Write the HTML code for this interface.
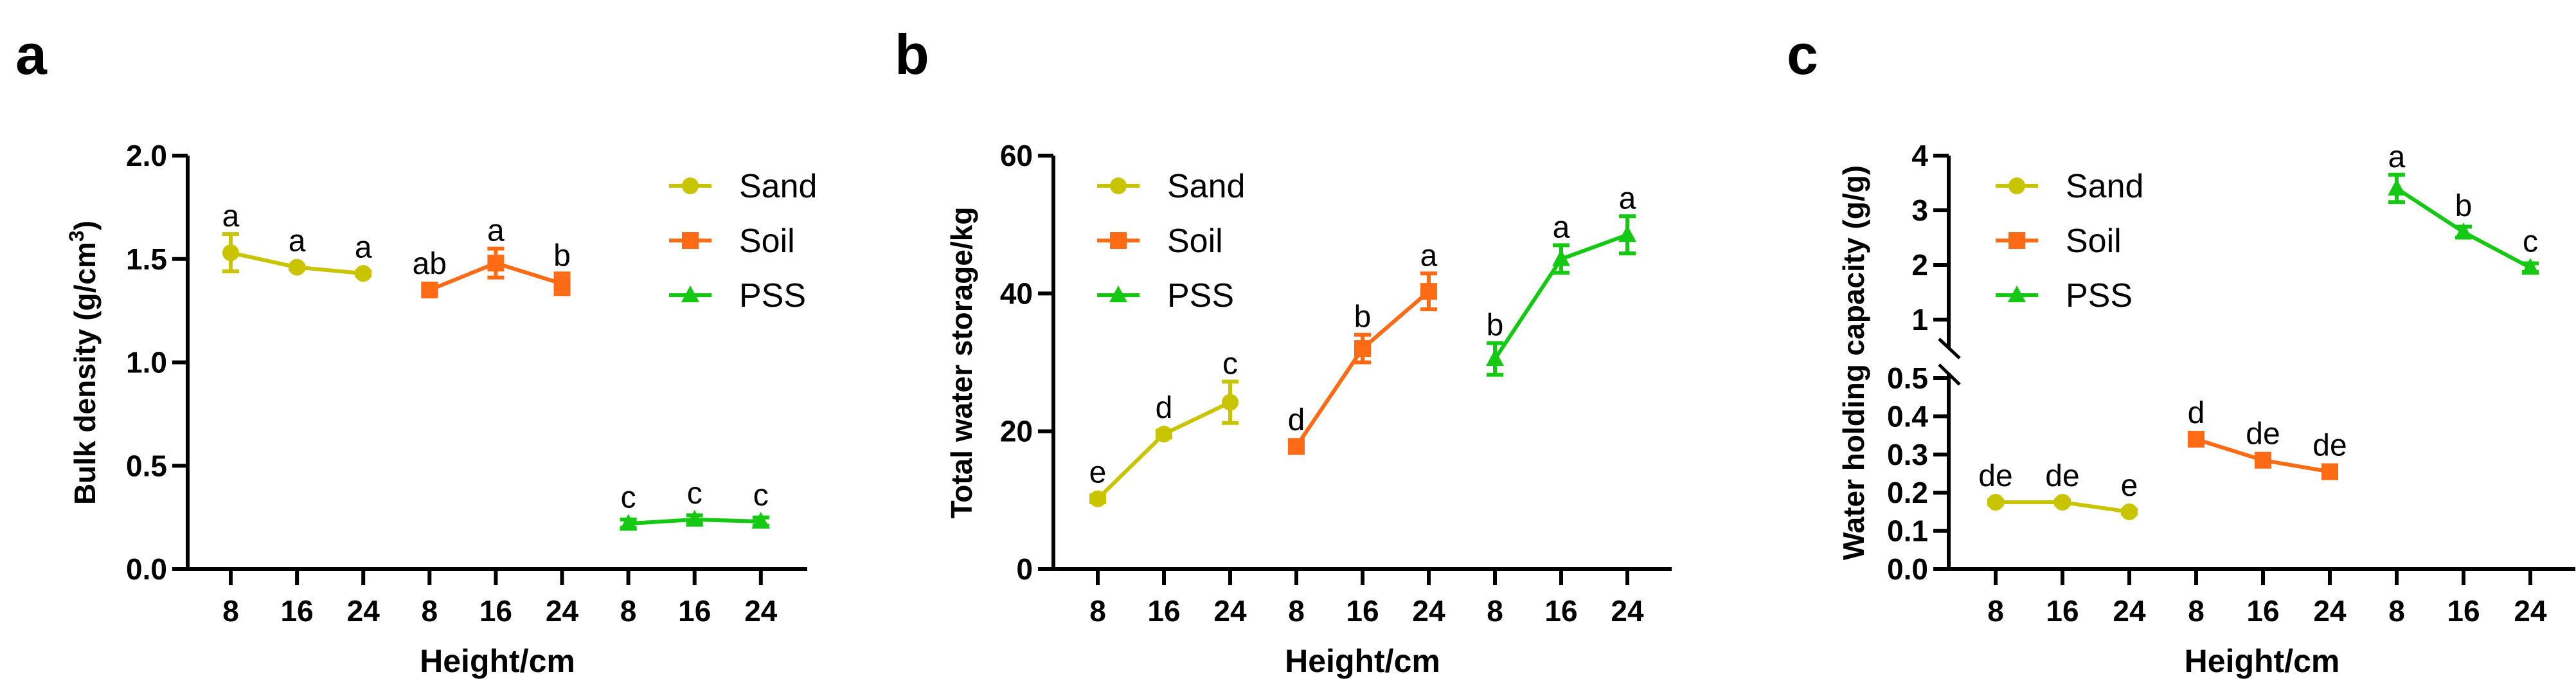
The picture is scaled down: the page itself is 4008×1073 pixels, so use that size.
<!DOCTYPE html>
<html><head><meta charset="utf-8"><style>
body{margin:0;background:#fff}
svg{display:block;font-family:"Liberation Sans",sans-serif}
</style></head><body>
<svg id="fig" width="4008" height="1073" viewBox="0 0 4008 1073" xmlns="http://www.w3.org/2000/svg"></svg>
<script>
const seriesNames=["Sand","Soil","PSS"];
const xLabels=["8","16","24","8","16","24","8","16","24"];
// panel a: bulk density
const aSand=[1.53,1.46,1.43], aSoil=[1.35,1.48,1.38], aPSS=[0.22,0.24,0.23];
const aSandErr=[0.09,0.01,0.01], aSoilErr=[0.02,0.07,0.05], aPSSErr=[0.02,0.02,0.02];
const aLetters=["a","a","a","ab","a","b","c","c","c"];
const aTicks=[0,0.5,1.0,1.5,2.0];
// panel b: total water storage
const bSand=[10.2,19.6,24.2], bSoil=[17.8,32,40.3], bPSS=[30.5,45,48.5];
const bSandErr=[0.5,0.5,3], bSoilErr=[0.5,2,2.6], bPSSErr=[2.3,2,2.7];
const bLetters=["e","d","c","d","b","a","b","a","a"];
const bTicks=[0,20,40,60];
// panel c: water holding capacity
const cSand=[0.175,0.175,0.15], cSoil=[0.34,0.285,0.255], cPSS=[3.4,2.6,1.95];
const cSandErr=[0.005,0.005,0.005], cSoilErr=[0.005,0.005,0.005], cPSSErr=[0.25,0.1,0.08];
const cLetters=["de","de","e","d","de","de","a","b","c"];
const cTicksLow=[0,0.1,0.2,0.3,0.4,0.5], cTicksHigh=[1,2,3,4];

const colors=["#c8c400","#ff6a14","#14c814"];
const NS="http://www.w3.org/2000/svg";
const svg=document.getElementById('fig');
function el(tag,attrs,parent,name,inter){const e=document.createElementNS(NS,tag);for(const k in attrs)e.setAttribute(k,attrs[k]);(parent||svg).appendChild(e);return e;}
function marker(g,k,x,y){
  if(k===0){const c=el('circle',{cx:x,cy:y,r:13,fill:colors[0]},g,'marker-circle');}
  else if(k===1){el('rect',{x:x-13,y:y-13,width:26,height:26,fill:colors[1]},g,'marker-square');}
  else {el('polygon',{points:`${x},${y-15} ${x+14},${y+11} ${x-14},${y+11}`,fill:colors[2]},g,'marker-triangle');}
}
function panel(cfg){
  const g=el('g',{},svg,cfg.name+'-panel');
  el('text',{x:cfg.letterX,y:115,'font-size':88,'font-weight':'bold'},g,'panel-label').textContent=cfg.letter;
  const ax=cfg.axisX, X=i=>cfg.x0+i*cfg.dx;
  // y axis
  if(cfg.broken){
    el('line',{x1:ax,y1:242,x2:ax,y2:542,stroke:'#000','stroke-width':6},g,'y-axis-upper');
    el('line',{x1:ax,y1:580,x2:ax,y2:888,stroke:'#000','stroke-width':6},g,'y-axis-lower');
    el('line',{x1:ax-15,y1:527,x2:ax+17,y2:557,stroke:'#000','stroke-width':5},g,'axis-break');
    el('line',{x1:ax-15,y1:567,x2:ax+17,y2:598,stroke:'#000','stroke-width':5},g,'axis-break');
  } else el('line',{x1:ax,y1:242,x2:ax,y2:888,stroke:'#000','stroke-width':6},g,'y-axis');
  el('line',{x1:ax-3,y1:885,x2:cfg.axisEnd,y2:885,stroke:'#000','stroke-width':6},g,'x-axis');
  cfg.ticks.forEach(t=>{const y=cfg.Y(t);
    el('line',{x1:ax-24,y1:y,x2:ax,y2:y,stroke:'#000','stroke-width':6},g,'y-tick');
    const tx=el('text',{x:ax-32,y:y+16,'font-size':46,'font-weight':'bold','text-anchor':'end'},g,'y-tick-label');tx.textContent=cfg.fmt(t);});
  xLabels.forEach((l,i)=>{
    el('line',{x1:X(i),y1:885,x2:X(i),y2:910,stroke:'#000','stroke-width':6},g,'x-tick');
    el('text',{x:X(i),y:966,'font-size':46,'font-weight':'bold','text-anchor':'middle'},g,'x-tick-label').textContent=l;});
  el('text',{x:(ax+cfg.axisEnd)/2,y:1045,'font-size':50,'font-weight':'bold','text-anchor':'middle'},g,'x-axis-title').textContent='Height/cm';
  const yt=el('text',{x:0,y:0,'font-size':46,'font-weight':'bold','text-anchor':'middle',transform:`translate(${cfg.titleX},${cfg.titleY}) rotate(-90)`},g,'y-axis-title');
  yt.innerHTML=cfg.title;
  cfg.series.forEach((vals,k)=>{
    const sg=el('g',{},g,'series-'+seriesNames[k].toLowerCase());
    const pts=vals.map((v,j)=>[X(k*3+j),cfg.Y(v)]);
    el('polyline',{points:pts.map(p=>p.join(',')).join(' '),fill:'none',stroke:colors[k],'stroke-width':6},sg,'series-line');
    vals.forEach((v,j)=>{const x=X(k*3+j),e=cfg.errs[k][j];
      const yt2=cfg.Y(v+e),yb=cfg.Y(v-e);
      if(e>0){el('line',{x1:x,y1:yt2,x2:x,y2:yb,stroke:colors[k],'stroke-width':6},sg,'error-bar');
        el('line',{x1:x-13,y1:yt2,x2:x+13,y2:yt2,stroke:colors[k],'stroke-width':6},sg,'error-cap');
        el('line',{x1:x-13,y1:yb,x2:x+13,y2:yb,stroke:colors[k],'stroke-width':6},sg,'error-cap');}
      marker(sg,k,x,cfg.Y(v));
      el('text',{x:x,y:Math.min(yt2,cfg.Y(v)-13)-12,'font-size':48,'text-anchor':'middle'},sg,'significance-letter').textContent=cfg.letters[k*3+j];
    });
  });
  seriesNames.forEach((n,k)=>{const y=cfg.legY+k*85;
    const lg=el('g',{},g,'legend-entry-'+n.toLowerCase());
    el('line',{x1:cfg.legX-33,y1:y,x2:cfg.legX+33,y2:y,stroke:colors[k],'stroke-width':6},lg,'legend-line');
    marker(lg,k,cfg.legX,y);
    el('text',{x:cfg.legX+76,y:y+18,'font-size':52},lg,'legend-label').textContent=n;});
}
const linY=(max)=>v=>885-v/max*643;
panel({name:'bulk-density',letter:'a',letterX:24,axisX:292,axisEnd:1256,x0:359,dx:103.1,Y:linY(2),ticks:aTicks,fmt:t=>t.toFixed(1),
  title:'Bulk density (g/cm<tspan dy="-18" font-size="32">3</tspan><tspan dy="18">)</tspan>',titleX:148,titleY:564,
  series:[aSand,aSoil,aPSS],errs:[aSandErr,aSoilErr,aPSSErr],letters:aLetters,legX:1074,legY:289});
panel({name:'water-storage',letter:'b',letterX:1392,axisX:1639,axisEnd:2601,x0:1708,dx:103,Y:linY(60),ticks:bTicks,fmt:t=>String(t),
  title:'Total water storage/kg',titleX:1512,titleY:564,
  series:[bSand,bSoil,bPSS],errs:[bSandErr,bSoilErr,bPSSErr],letters:bLetters,legX:1740,legY:289});
const cY=v=>v<=0.5?885-v/0.5*297:497-(v-1)/3*255;
panel({name:'water-holding',letter:'c',letterX:2780,axisX:3032,axisEnd:4007,x0:3105,dx:104,Y:cY,ticks:cTicksLow.concat(cTicksHigh),
  fmt:t=>t>=1?String(t):t.toFixed(1),broken:true,
  title:'Water holding capacity (g/g)',titleX:2900,titleY:564,
  series:[cSand,cSoil,cPSS],errs:[cSandErr,cSoilErr,cPSSErr],letters:cLetters,legX:3138,legY:289});
</script>
</body></html>
